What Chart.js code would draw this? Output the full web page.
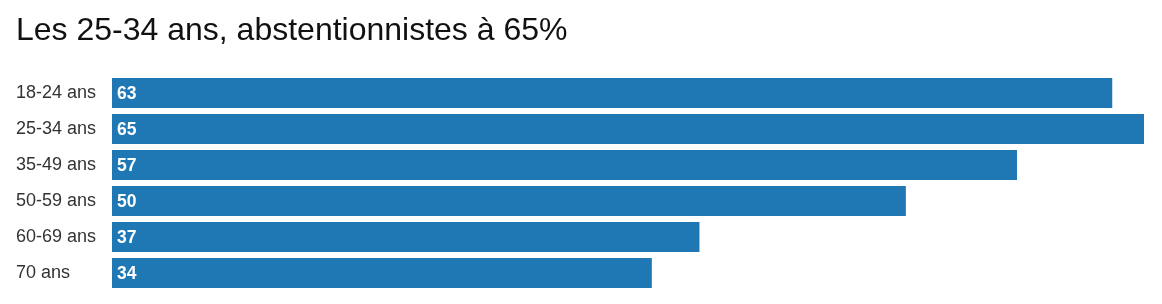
<!DOCTYPE html>
<html>
<head>
<meta charset="utf-8">
<script src="https://cdn.jsdelivr.net/npm/chart.js@4"></script>
<style>
  html, body { margin: 0; padding: 0; background: #fff; }
  #wrap { width: 1162px; height: 304px; }
</style>
</head>
<body>
<div id="wrap"><canvas id="myChart"></canvas></div>
<script>
/* abstention par tranche d'age */
const ageGroups = ['18-24 ans', '25-34 ans', '35-49 ans', '50-59 ans', '60-69 ans', '70 ans'];
const abstention = [63, 65, 57, 50, 37, 34];
const chartTitle = 'Les 25-34 ans, abstentionnistes à 65%';

const barColor = '#1f77b4';
const fontFamily = '"Helvetica Neue", "Liberation Sans", Arial, sans-serif';

// valeurs en blanc au debut de chaque barre
const valueLabels = {
  id: 'valueLabels',
  afterDatasetsDraw(chart) {
    const ctx = chart.ctx;
    const meta = chart.getDatasetMeta(0);
    ctx.save();
    ctx.fillStyle = '#fff';
    ctx.font = 'bold 17.5px ' + fontFamily;
    ctx.textAlign = 'left';
    ctx.textBaseline = 'middle';
    meta.data.forEach((bar, i) => {
      ctx.fillText(abstention[i], bar.base + 5, bar.y + 1);
    });
    ctx.restore();
  }
};

const ctx = document.getElementById('myChart').getContext('2d');

new Chart(ctx, {
  type: 'bar',
  data: {
    labels: ageGroups,
    datasets: [{
      data: abstention,
      backgroundColor: barColor,
      borderWidth: 0,
      barPercentage: 0.83,
      categoryPercentage: 1
    }]
  },
  options: {
    indexAxis: 'y',
    responsive: true,
    maintainAspectRatio: false,
    animation: false,
    layout: {
      padding: { left: 16, right: 18, top: 0, bottom: 13 }
    },
    scales: {
      x: {
        display: false,
        min: 0,
        max: 65
      },
      y: {
        grid: { display: false },
        border: { display: false },
        afterFit: (scale) => { scale.width = 96; },
        ticks: {
          crossAlign: 'far',
          color: '#333',
          padding: 0,
          font: { family: fontFamily, size: 18 }
        }
      }
    },
    plugins: {
      legend: { display: false },
      tooltip: { enabled: false },
      title: {
        display: true,
        text: chartTitle,
        align: 'start',
        color: '#111',
        font: { family: fontFamily, size: 32, weight: 'normal', lineHeight: 1.2 },
        padding: { top: 12, bottom: 24.6 }
      }
    }
  },
  plugins: [valueLabels]
});
</script>
</body>
</html>
